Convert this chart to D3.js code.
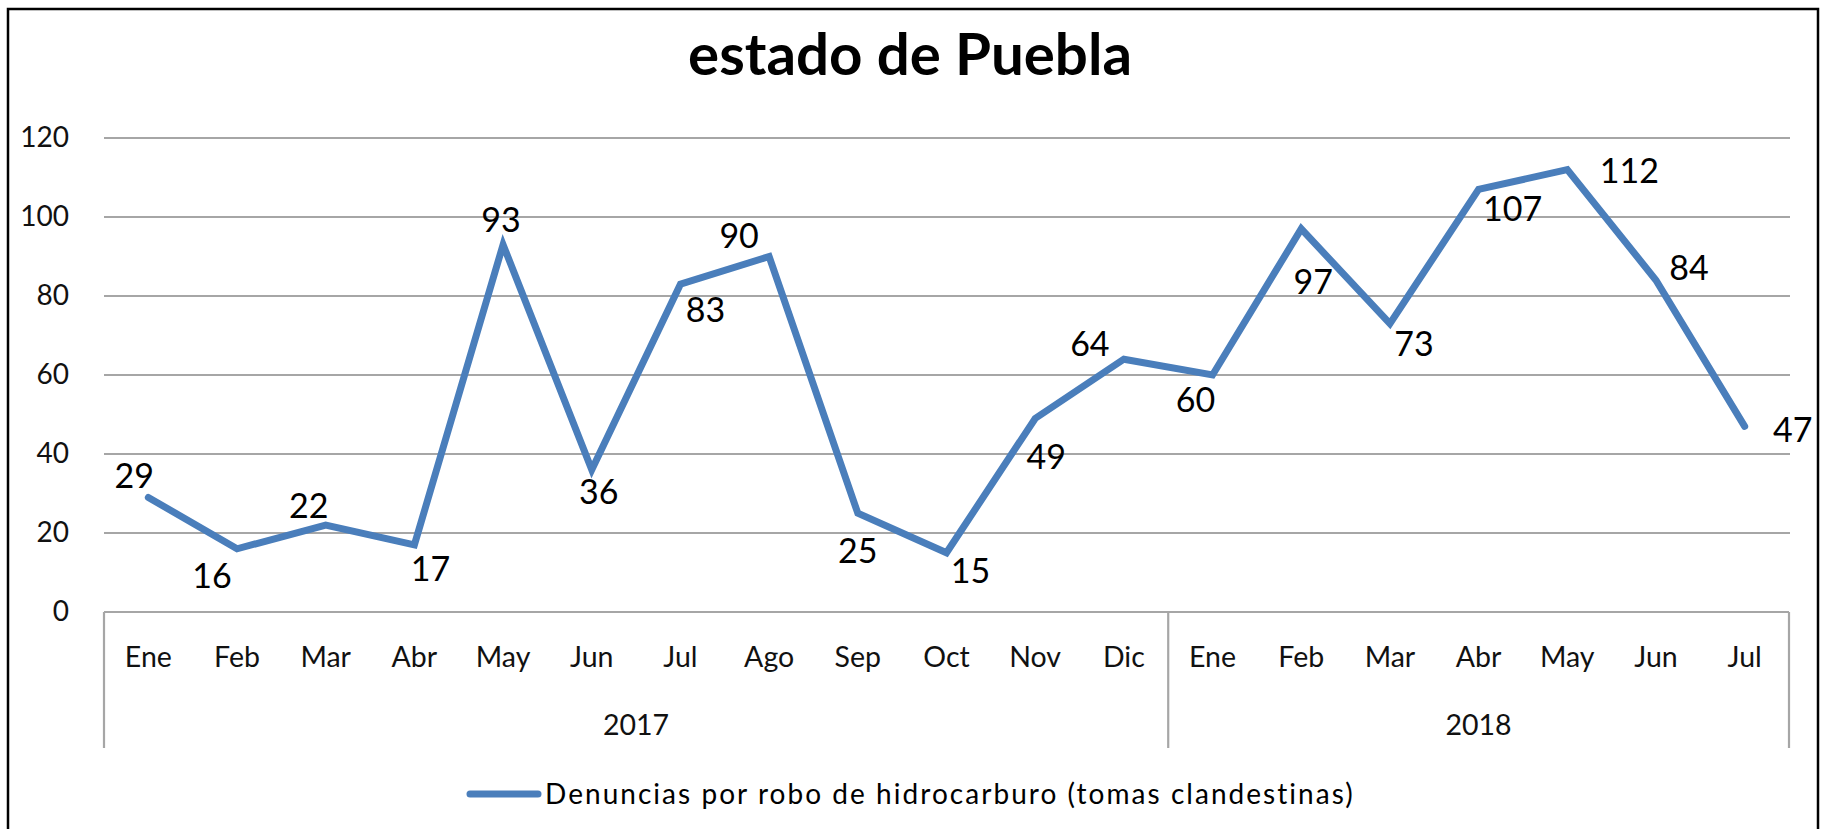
<!DOCTYPE html>
<html><head><meta charset="utf-8">
<script src="https://cdn.jsdelivr.net/npm/d3@7"></script>
<style>
body{margin:0;background:#fff;}
svg{display:block;font-family:Lato,'Open Sans',sans-serif;}
</style>
</head><body>
<svg id="c" width="1827" height="829"></svg>
<script>
// ---- data ----
const months = ["Ene","Feb","Mar","Abr","May","Jun","Jul","Ago","Sep","Oct","Nov","Dic",
                "Ene","Feb","Mar","Abr","May","Jun","Jul"];
const years = ["2017","2018"];
const yearCounts = [12, 7];
const values = [29,16,22,17,93,36,83,90,25,15,49,64,60,97,73,107,112,84,47];
const yTicks = [0,20,40,60,80,100,120];
const chartTitle = "estado de Puebla";
const seriesName = "Denuncias por robo de hidrocarburo (tomas clandestinas)";
// label placement offsets (px) relative to each point
const labelOffsets = [[-14,-22],[-25,27],[-17,-19],[16,24],[-2,-25],[7,22],[25,26],[-30,-21],
  [0,38],[24,18],[11,38],[-34,-15],[-17,25],[12,53],[24,20],[34,19],[62,1],[33,-12],[48,3]];

(function(){
const svg = d3.select("#c");
const pLeft = 104, pRight = 1789, pTop = 138, pBase = 612, boxBottom = 748;
const lineColor = "#4a7ebb", gridColor = "#a6a6a6";

svg.append("rect").attr("x",8).attr("y",9).attr("width",1810).attr("height",840)
  .attr("fill","#fff").attr("stroke","#000").attr("stroke-width",2.5);

const x = d3.scaleBand().domain(d3.range(values.length)).range([pLeft,pRight]).padding(0);
const y = d3.scaleLinear().domain([0,120]).range([pBase,pTop]);
const cx = i => x(i) + x.bandwidth()/2;

// gridlines
svg.append("g").selectAll("line").data(yTicks.filter(t=>t>0)).join("line")
  .attr("x1",pLeft).attr("x2",pRight+1).attr("y1",d=>y(d)).attr("y2",d=>y(d))
  .attr("stroke",gridColor).attr("stroke-width",2.2);

// y axis labels
const yAxis = svg.append("g").attr("transform",`translate(${pLeft},0)`)
  .call(d3.axisLeft(y).tickValues(yTicks).tickSize(0).tickPadding(35));
yAxis.select(".domain").remove();
yAxis.selectAll("text").attr("font-size",28).attr("fill","#111")
  .attr("font-family","Lato,'Open Sans',sans-serif");

// category box
const box = svg.append("g").attr("stroke",gridColor).attr("stroke-width",2.2).attr("fill","none");
box.append("line").attr("x1",pLeft).attr("x2",pRight).attr("y1",pBase).attr("y2",pBase);
let acc = 0;
const seps = [0];
yearCounts.forEach(c=>{acc+=c; seps.push(acc);});
seps.forEach(k=>{
  const xx = k < values.length ? x(k) : pRight;
  box.append("line").attr("x1",xx).attr("x2",xx).attr("y1",pBase).attr("y2",boxBottom);
});

// month labels
svg.append("g").selectAll("text").data(months).join("text")
  .attr("x",(d,i)=>cx(i)).attr("y",657).attr("dy","0.35em")
  .attr("text-anchor","middle").attr("font-size",28.5).attr("fill","#111").text(d=>d);

// year labels
svg.append("g").selectAll("text").data(years).join("text")
  .attr("x",(d,i)=>{
    const s = seps[i], e = seps[i+1];
    const x0 = x(s), x1 = e < values.length ? x(e) : pRight;
    return (x0+x1)/2;
  })
  .attr("y",725).attr("dy","0.35em").attr("text-anchor","middle")
  .attr("font-size",28.5).attr("fill","#111").text(d=>d);

// line
const line = d3.line().x((d,i)=>cx(i)).y(d=>y(d));
svg.append("path").datum(values).attr("d",line).attr("fill","none")
  .attr("stroke",lineColor).attr("stroke-width",7).attr("stroke-linejoin","miter")
  .attr("stroke-linecap","round");

// data labels
svg.append("g").selectAll("text").data(values).join("text")
  .attr("x",(d,i)=>cx(i)+labelOffsets[i][0])
  .attr("y",(d,i)=>y(d)+labelOffsets[i][1])
  .attr("dy","0.36em").attr("text-anchor","middle")
  .attr("font-size",34).attr("fill","#000").text(d=>d);

// title
const t = svg.append("text").attr("x",910).attr("y",75).attr("text-anchor","middle")
  .attr("font-weight","bold").attr("font-size",54).attr("fill","#000").text(chartTitle);
let w = t.node().getComputedTextLength();
if (w>0) t.attr("font-size", 54*444/w);

// legend
svg.append("line").attr("x1",470).attr("x2",538).attr("y1",794).attr("y2",794)
  .attr("stroke",lineColor).attr("stroke-width",7).attr("stroke-linecap","round");
const lt = svg.append("text").attr("x",545).attr("y",794).attr("dy","0.35em")
  .attr("font-size",28).attr("fill","#000").text(seriesName);
w = lt.node().getComputedTextLength();
if (w>0 && w<808) lt.attr("letter-spacing", ((808-w)/(seriesName.length-1)).toFixed(2)+"px");
})();
</script>
</body></html>
